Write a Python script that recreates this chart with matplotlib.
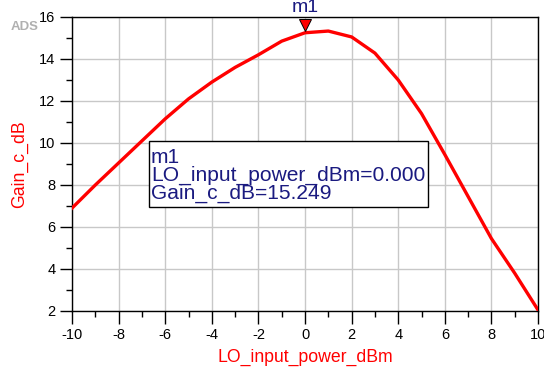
import numpy as np
import matplotlib
matplotlib.use("Agg")
import matplotlib.pyplot as plt
from matplotlib.ticker import MultipleLocator
from matplotlib.patches import Rectangle

plt.rcParams['font.family'] = ['Liberation Sans', 'DejaVu Sans']
plt.rcParams['axes.unicode_minus'] = False

# data
lo_power = [-10, -9, -8, -7, -6, -5, -4, -3, -2, -1, 0, 1, 2, 3, 4, 5, 6, 7, 8, 9, 10]
gain_db = [6.9, 8.0, 9.05, 10.1, 11.15, 12.1, 12.9, 13.6, 14.2, 14.85, 15.249,
           15.33, 15.05, 14.28, 13.0, 11.4, 9.45, 7.45, 5.45, 3.8, 2.05]
marker_x = 0.0
marker_y = 15.249

fig = plt.figure(figsize=(5.44, 3.80), dpi=100)
ax = fig.add_axes([0.1324, 0.1816, 0.8566, 0.7737])

ax.plot(lo_power, gain_db, color='red', lw=2.4, zorder=3)

ax.set_xlim(-10, 10)
ax.set_ylim(2, 16)
ax.xaxis.set_major_locator(MultipleLocator(2))
ax.xaxis.set_minor_locator(MultipleLocator(1))
ax.yaxis.set_major_locator(MultipleLocator(2))
ax.yaxis.set_minor_locator(MultipleLocator(1))
ax.grid(True, which='major', color='#c8c8c8', lw=1.0)
ax.set_axisbelow(True)
ax.tick_params(which='major', direction='out', length=9, width=1, labelsize=10.5, pad=3)
ax.tick_params(which='minor', direction='out', length=4.5, width=1)
for s in ax.spines.values():
    s.set_color('black')
    s.set_linewidth(1.0)

ax.set_xlabel('LO_input_power_dBm', color='red', fontsize=12.7, labelpad=5)
ax.set_ylabel('Gain_c_dB', color='red', fontsize=12.7, labelpad=8)

# marker m1
ax.plot([marker_x], [marker_y + 0.35], marker='v', ms=8, mfc='red', mec='black', mew=0.7,
        clip_on=False, zorder=5)
ax.text(marker_x, 16.05, 'm1', color='#1a1a80', fontsize=14, ha='center', va='bottom')

# marker readout box
ax.add_patch(Rectangle((-6.70, 6.95), 11.98, 3.15, fc='white', ec='black', lw=1.0, zorder=4))
ax.text(-6.62, 8.45,
        'm1\nLO_input_power_dBm=%.3f\nGain_c_dB=%.3f' % (marker_x, marker_y),
        color='#1a1a80', fontsize=15.1, ha='left', va='center', linespacing=0.93, zorder=5)

fig.text(0.046, 0.928, 'ADS', color='#b0b0b0', fontsize=9.5, fontweight='bold',
         ha='center', va='center')

fig.savefig('out.png', dpi=100)
